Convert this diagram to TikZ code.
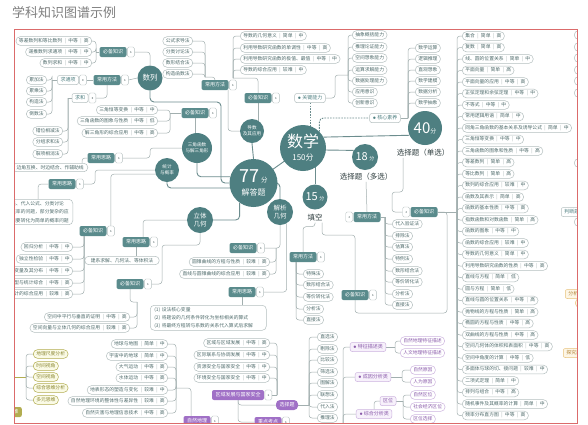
\documentclass[tikz,border=0pt]{standalone}
\usepackage{fontspec}
\setmainfont{Noto Sans CJK SC}
\usetikzlibrary{backgrounds}
\definecolor{teal0}{HTML}{4E7F81}
\definecolor{tealtag}{HTML}{5A8B8C}
\definecolor{pillb}{HTML}{B4BFBF}
\definecolor{pillt}{HTML}{4F6B6B}
\definecolor{sepc}{HTML}{9AA8A8}
\definecolor{lnk}{HTML}{A2AFAF}
\definecolor{lnkd}{HTML}{6C8D8E}
\definecolor{framec}{HTML}{DB6B6B}
\definecolor{titlec}{HTML}{7F7F7F}
\definecolor{labc}{HTML}{2E3D3E}
\definecolor{purp}{HTML}{A070C6}
\definecolor{purpl}{HTML}{F7F1FB}
\definecolor{purpb}{HTML}{CDB4DF}
\definecolor{purpt}{HTML}{8A5BAA}
\definecolor{olv}{HTML}{B2AD50}
\definecolor{olvl}{HTML}{FAFAE6}
\definecolor{olvt}{HTML}{8C8834}
\definecolor{ylw}{HTML}{E8C27A}
\definecolor{ylwl}{HTML}{FDF6E6}
\definecolor{ylwt}{HTML}{B3863A}
\definecolor{btnd}{HTML}{5E6E6E}
\newcommand\mypf{\fontsize{4.8}{5.6}\selectfont}
\newcommand\mytf{\fontsize{5}{6}\selectfont}
\newcommand\sepb{\hspace{2.4pt}{\color{sepc}|}\hspace{2.4pt}}
\tikzset{
 pill/.style={draw=pillb, fill=white, rounded corners=4.2pt, inner xsep=3pt, inner ysep=0pt, minimum height=8.6pt, text=pillt, font=\mypf, line width=0.5pt},
 pillo/.style={pill, draw=olv, fill=olvl, text=olvt},
 pillp/.style={pill, draw=purpb, text=purpt},
 pilly/.style={pill, draw=ylw, fill=ylwl, text=ylwt},
 tagd/.style={fill=tealtag, text=white, rounded corners=2pt, inner xsep=3.5pt, inner ysep=0pt, minimum height=10pt, font=\mytf},
 tagp/.style={tagd, fill=purp},
 btn/.style={draw=pillb, fill=white, minimum width=7pt, minimum height=10pt, inner sep=0pt, rounded corners=1.5pt, line width=0.4pt, path picture={\fill[btnd] (path picture bounding box.center) circle (0.7pt);}},
 tagw/.style={draw=pillb, fill=white, text=teal0, rounded corners=2pt, inner xsep=3pt, inner ysep=0pt, minimum height=9pt, font=\mytf, line width=0.5pt},
 tagpl/.style={tagw, draw=purpb, fill=purpl, text=purpt},
 tagy/.style={tagw, draw=ylw, fill=ylwl, text=ylwt},
 circ/.style={circle, fill=teal0, text=white, inner sep=0pt, align=center},
 lab/.style={text=labc, inner sep=1pt, font=\fontsize{7.5}{8}\selectfont},
 conn/.style={draw=lnk, line width=0.5pt, rounded corners=3pt},
 connd/.style={draw=lnkd, line width=0.9pt, rounded corners=4pt},
 leafbox/.style={draw=pillb, fill=white, rounded corners=4pt, text=pillt, align=left, inner xsep=4pt, inner ysep=2pt, line width=0.5pt},
}
\newcommand\tagR[5][tagd]{\node[#1] (#2) at (#3,#4) {#5};\node[btn, anchor=west] (#2b) at ([xshift=0.4pt]#2.east) {};}
\newcommand\tagL[5][tagd]{\node[#1] (#2) at (#3,#4) {#5};\node[btn, anchor=east] (#2b) at ([xshift=-0.4pt]#2.west) {};}
\newcommand\leafR[5][pill]{\foreach \qy/\qt [count=\qi] in {#5}{\node[#1,anchor=west] (#2\qi) at (#3,\qy) {\qt};\draw[conn] (#4) |- (#2\qi.west);}}
\newcommand\leafL[5][pill]{\foreach \qy/\qt [count=\qi] in {#5}{\node[#1,anchor=east] (#2\qi) at (#3,\qy) {\qt};\draw[conn] (#4) |- (#2\qi.east);}}
\begin{document}
\begin{tikzpicture}[x=1pt,y=-1pt]
\useasboundingbox (0,0) rectangle (588,424);
\begin{pgfonlayer}{background}
\fill[white] (0,0) rectangle (588,424);
\end{pgfonlayer}
\begin{scope}
\clip (14,29) rectangle (577,423);
% ---------- circles ----------
\node[circ, minimum size=46pt] (sx) at (303,148) {{\fontsize{16}{16}\selectfont 数学}\\[1pt]{\fontsize{8}{8}\selectfont 150分}};
\node[circ, minimum size=48pt] (s77) at (253.5,183) {{\fontsize{18}{18}\selectfont 77}\,{\fontsize{6.5}{6.5}\selectfont 分}\\[1pt]{\fontsize{8}{8}\selectfont 解答题}};
\node[circ, minimum size=34pt] (s40) at (425,128) {{\fontsize{15}{15}\selectfont 40}{\fontsize{6}{6}\selectfont 分}};
\node[circ, minimum size=26pt] (s18) at (365,157) {{\fontsize{11}{11}\selectfont 18}\,{\fontsize{5}{5}\selectfont 分}};
\node[circ, minimum size=25pt] (s15) at (315,197) {{\fontsize{11}{11}\selectfont 15}\,{\fontsize{5}{5}\selectfont 分}};
\node[circ, minimum size=26pt, font=\fontsize{6.5}{7.5}\selectfont] (jx) at (280,212) {解析\\几何};
\node[circ, minimum size=26pt, font=\fontsize{6.5}{7.5}\selectfont] (lt) at (200,220) {立体\\几何};
\node[circ, minimum size=24pt, font=\fontsize{4.6}{5.6}\selectfont] (tj) at (167,170) {统计\\与概率};
\node[circ, minimum size=30pt, font=\fontsize{4.6}{5.6}\selectfont] (sj) at (197,148) {三角函数\\与解三角形};
\node[circ, minimum size=24pt, font=\fontsize{4.6}{5.6}\selectfont] (dao) at (252,131) {导数\\及其应用};
\node[circ, minimum size=25pt, font=\fontsize{7.5}{8}\selectfont] (sl) at (150,78) {数列};
\node[lab] (s40l) at (423,153) {选择题（单选）};
\node[lab] (s18l) at (366,177) {选择题（多选）};
\node[lab] (tkl) at (315,218) {填空};
% ---------- tags ----------
\tagR{slbk}{113}{52}{必备知识}
\tagR{slcy}{107}{80}{常用方法}
\tagR{sjbk}{195}{113}{必备知识}
\tagR{sjsl}{101}{158}{常用思路}
\tagR{tjsl}{62}{184}{常用思路}
\tagR{tjbk}{93}{231}{必备知识}
\tagR{ltsl}{136}{242}{常用思路}
\tagR{ltbk}{130}{284}{必备知识}
\tagR{jxbk}{243}{248}{必备知识}
\tagR{jxsl}{242}{292}{常用思路}
\tagR{tkcy}{303}{257}{常用方法}
\tagR{tkbk}{355}{295}{必备知识}
\tagR{dcy}{215}{85}{常用方法}
\tagR{dbk}{258}{98}{必备知识}
\tagL{xdbk}{424}{212}{必备知识}
\tagL{dxcy}{367}{217}{常用方法}
\node[tagw] (gjnl) at (310,98) {$\bullet$\,关键能力};
\node[tagw] (hxsy) at (385,118) {$\bullet$\,核心素养};
\tagR[tagw]{qiu}{68}{80}{求通项}
\tagR[tagw]{qh}{80}{98}{求和}
\tagR[tagp]{qyfz}{238}{395}{区域发展与国家安全}
\node[tagp, rounded corners=4pt] (xzt) at (287,405) {选择题};
\tagR[tagp]{zdkd}{268}{422}{重点考点}
\tagR[tagp]{zrdl}{197}{421}{自然地理}
\node[tagpl] (tzms) at (368,347) {$\bullet$\,特征描述类};
\node[tagpl] (cyfx) at (373,377) {$\bullet$\,成因分析类};
\node[tagpl] (qw) at (388,401) {区位};
\node[tagpl] (zhfx) at (374,414) {$\bullet$\,综合分析类};
\node[tagd, fill=olv, anchor=east] (olt) at (22,412) {地理思维};
% ---------- leaf boxes ----------
\node[leafbox, font=\mypf, anchor=north east] (sjleaf) at (88,163) {边角互换、时边结合、作辅助线};
\node[leafbox, font=\fontsize{4.8}{8.5}\selectfont, anchor=north east] (tjleaf) at (73,199) {列举法、代入公式、分类讨论\\处理概率的问题，部分复杂的应\\用题需要转化为简单的概率问题};
\node[leafbox, font=\mypf, inner xsep=6pt, anchor=north] (ltleaf) at (122,256) {建系求解、几何法、等体积法};
\node[leafbox, font=\fontsize{4.8}{8}\selectfont, text width=108pt, anchor=north west] (jxleaf) at (150,305) {(1) 设法核心变量\\(2) 将题设的几何条件转化为坐标相关的算式\\(3) 将最终方程转与系数的关系代入算式后求解};
% ---------- spine coordinates ----------
\coordinate (slc) at (221,102);
\coordinate (slbksp) at (96,52);
\coordinate (qiusp) at (52,80);
\coordinate (qhsp) at (68,98);
\coordinate (dcyc) at (205,77);
\coordinate (dbkc) at (233,78);
\coordinate (gja) at (335,98);
\coordinate (gjc) at (348,75);
\coordinate (hxc) at (408,118);
\coordinate (sjbksp) at (170,113);
\coordinate (sjc) at (150,148);
\coordinate (tjc) at (95,170);
\coordinate (tjbksp) at (84,236);
\coordinate (ltc) at (162,245);
\coordinate (ltsp) at (137,302);
\coordinate (jxsp) at (276,248);
\coordinate (tkcysp) at (296,262);
\coordinate (tkc) at (355,235);
\coordinate (bigc) at (447,313);
\coordinate (dxsp) at (385,217);
\coordinate (xdc) at (392,192);
\coordinate (xdsp) at (457,212);
\coordinate (qysp) at (277,395);
\coordinate (xzsp) at (309,405);
\coordinate (gsp) at (176,388);
\coordinate (tzsp) at (395,347);
\coordinate (cysp) at (402,377);
\coordinate (qwsp) at (403,401);
\coordinate (ppb) at (343,430);
\coordinate (olp) at (8,377);
\coordinate (olc) at (26,377);
% ---------- leaves ----------
\leafL{slk}{92}{slbksp}{41/等差数列和等比数列\sepb 中等\sepb 高, 52/递推数列求通项\sepb 中等\sepb 中, 63/数列求和\sepb 中等\sepb 中}
\leafL{qiul}{47}{qiusp}{80/累加法, 91/累乘法, 102/构造法, 114/倒数法}
\leafL{qhl}{63}{qhsp}{131/错位相减法, 142/分组求和法, 154/裂项相消法}
\leafL{dcl}{193}{dcyc}{41/公式求导法, 52/分类讨论法, 63/数形结合法, 74/构造函数法}
\leafR{dbl}{240}{dbkc}{36/导数的几何意义\sepb 简单\sepb 中, 48/利用导数研究函数的单调性\sepb 中等\sepb 高, 59/利用导数研究函数的极值、最值\sepb 中等\sepb 中, 70/导数的综合应用\sepb 较难\sepb 中}
\leafR{gjl}{352}{gjc}{35/抽象概括能力, 47/推理论证能力, 58/空间想象能力, 70/运算求解能力, 81/数据处理能力, 92/应用意识, 103/创新意识}
\leafR{hxl}{415}{hxc}{48/数学运算, 59/逻辑推理, 70/直观想象, 81/数学建模, 92/数据分析, 103/数学抽象}
\leafL{sjl}{158}{sjbksp}{110/三角恒等变换\sepb 中等\sepb 中, 121/三角函数的图象与性质\sepb 中等\sepb 低, 133/解三角形的综合应用\sepb 中等\sepb 高}
\leafL{tjl}{73}{tjbksp}{247/回归分析\sepb 中等\sepb 中, 259/独立性检验\sepb 中等\sepb 中, 271/随机变量及其分布\sepb 中等\sepb 中, 283/古典概型与统计综合\sepb 中等\sepb 高, 294/概率与统计的综合应用\sepb 较难\sepb 高}
\leafL{ltl}{130}{ltsp}{317/空间中平行与垂直的证明\sepb 中等\sepb 高, 328/空间向量与立体几何的综合应用\sepb 较难\sepb 高}
\leafL{jxl}{270}{jxsp}{262/圆锥曲线的方程与性质\sepb 较难\sepb 高, 274/直线与圆锥曲线的综合应用\sepb 较难\sepb 高}
\leafR{tkl}{303}{tkcysp}{274/特殊法, 285/数形结合法, 297/等价转化法, 309/分析法, 320/直接法}
\leafR{dxl}{392}{dxsp}{224/代入验证法, 236/排除法, 247/估算法, 259/特例法, 271/数形结合法, 282/等价转化法, 294/分析法, 305/直接法}
\leafR{xdl}{462}{xdsp}{36/集合\sepb 简单\sepb 高, 47.5/复数\sepb 简单\sepb 高, 59/线、圆的位置关系\sepb 简单\sepb 中, 70.5/平面向量\sepb 简单\sepb 高, 82/平面向量的应用\sepb 中等\sepb 高, 93.5/正弦定理和余弦定理\sepb 中等\sepb 中, 105/不等式\sepb 中等\sepb 中, 116.5/常用逻辑用语\sepb 简单\sepb 中, 128/同角三角函数的基本关系及诱导公式\sepb 简单\sepb 中, 139.5/三角恒等变换\sepb 中等\sepb 中, 151/三角函数的图象和性质\sepb 中等\sepb 高, 162.5/等差数列\sepb 简单\sepb 高, 174/等比数列\sepb 简单\sepb 高, 185.5/数列的综合应用\sepb 较难\sepb 中, 197/函数及其表示\sepb 简单\sepb 高, 208.5/函数的基本性质\sepb 中等\sepb 高, 220/指数函数和对数函数\sepb 简单\sepb 高, 231.5/函数的图象\sepb 中等\sepb 中, 243/函数的综合应用\sepb 较难\sepb 中, 254.5/导数的几何意义\sepb 简单\sepb 中, 266/利用导数研究函数的性质\sepb 中等\sepb 高, 277.5/直线与方程\sepb 简单\sepb 低, 289/圆与方程\sepb 简单\sepb 低, 300.5/直线与圆的位置关系\sepb 中等\sepb 高, 312/抛物线的方程与性质\sepb 简单\sepb 高, 323.5/椭圆的方程与性质\sepb 中等\sepb 高, 335/双曲线的方程与性质\sepb 中等\sepb 高, 346.5/空间几何体的体积和表面积\sepb 中等\sepb 高, 358/空间中角度的计算\sepb 中等\sepb 低, 369.5/多面体与球的切、接问题\sepb 较难\sepb 中, 381/二项式定理\sepb 简单\sepb 中, 392.5/排列与组合\sepb 中等\sepb 高, 404/随机事件及其概率的计算\sepb 简单\sepb 中, 415.5/频率分布直方图\sepb 中等\sepb 高}
\leafL{qyl}{270}{qysp}{343/区域与区域发展\sepb 中等\sepb 高, 355/区际联系与协调发展\sepb 中等\sepb 中, 367/资源安全与国家安全\sepb 中等\sepb 中, 378/环境安全与国家安全\sepb 中等\sepb 中}
\leafL{gl}{168}{gsp}{344/地球与地图\sepb 简单\sepb 中, 356/宇宙中的地球\sepb 简单\sepb 中, 367/大气运动\sepb 中等\sepb 高, 378/水体运动\sepb 中等\sepb 高, 390/地表形态的塑造与变化\sepb 较难\sepb 中, 401/自然地理环境的整体性与差异性\sepb 较难\sepb 高, 413/自然灾害与地理信息技术\sepb 中等\sepb 高}
\leafR{xzl}{317}{xzsp}{337/直选法, 349/剔除法, 360/比较法, 372/筛选法, 383/图解法, 395/联想法, 407/代入法, 418/推理法}
\leafR[pillp]{tzl}{400}{tzsp}{341/自然地理特征描述, 353/人文地理特征描述}
\leafR[pillp]{cyl}{410}{cysp}{370/自然原因, 382/人为原因}
\leafR[pillp]{qwl}{410}{qwsp}{395/自然区位, 407/社会经济区位, 419/区位选择}
\leafR[pillo]{oll}{33}{olc}{354/地理尺度分析, 366/时间视角, 377/空间视角, 388/综合思维分析, 400/多元思维}
% ---------- right edge ----------
\foreach \qy [count=\qi] in {35,47,58,70,81,93,163,222}{\node[pill, anchor=west] (rs\qi) at (574,\qy) {集合\sepb 简单\sepb 高};}
\node[tagw, anchor=west] (pdt) at (561,212) {判断题};
\node[tagy, anchor=west] (fxt) at (565,294) {分析题};
\node[pilly, anchor=west] (ys1) at (575,303) {分析};
\node[tagy, anchor=west] (tjt) at (563,353) {探究题};
\end{scope}
% ---------- connectors ----------
\begin{pgfonlayer}{background}
\begin{scope}
\clip (14,29) rectangle (577,423);
\draw[connd] (sx.center) -- (s77.center);
\draw[connd] (sx.28) -- (s40.205);
\draw[connd] (sx.355) -- (s18.150);
\draw[connd] (s15.north) -- (s15.north |- sx.center);
\draw[connd, dash pattern=on 1.6pt off 1.2pt] (gjnl.south) -- (gjnl.south |- sx.center);
\draw[connd, dash pattern=on 1.6pt off 1.2pt] (sx.45) |- (hxsy.west);
\draw[connd] (dao.south) -- (s77.north);
\draw[connd] (sl.south) |- (slc) |- (s77.west);
\draw[connd] (sj.south) |- (s77.165);
\draw[connd] (tj.south) |- (s77.192);
\draw[connd] (lt.east) -| (s77.235);
\draw[connd] (s77.east) -| (jx.north);
\draw[conn] (slbkb.east) -| (sl.north);
\draw[conn] (slcyb.east) -- (sl.west);
\draw[conn] (slbk.west) -- (slbksp);
\draw[conn] (slcy.west) -- (qiub.east);
\draw[conn] (slcy.south) |- (qhb.east);
\draw[conn] (qiu.west) -- (qiusp);
\draw[conn] (qh.west) -- (qhsp);
\draw[conn] (sjbk.south) -- (sjbk.south |- sj.center);
\draw[conn] (sjbk.west) -- (sjbksp);
\draw[conn] (sj.west) -- (sjc) |- (sjslb.east);
\draw[conn] (sjsl.west) -| ([xshift=-6pt]sjleaf.north east);
\draw[conn] (tj.west) -- (tjc) |- (tjslb.east);
\draw[conn] (tjsl.west) -| ([xshift=3pt]tjleaf.north);
\draw[conn] (tj.200) -| (tjbkb.north);
\draw[conn] (lt.west) -| ([xshift=7pt]ltsl.north);
\draw[conn] (ltsl.south) -- (ltsl.south |- ltleaf.north);
\draw[conn] (lt.south) |- (ltc) |- (ltbkb.east);
\draw[conn] (ltbk.south) |- (ltsp);
\draw[conn] (jx.south) |- (jxbkb.east);
\draw[conn] (jx.300) |- (jxslb.east);
\draw[conn] (jxsl.south) -- (jxsl.south |- jxleaf.north);
\draw[conn] (tkl.south) -- ++(0,4) -| (tkcy.north);
\draw[conn] ([xshift=7pt]tkl.south) |- (tkc) -- (tkbk.north);
\draw[conn] (tkbk.south) |- (bigc) |- (xdbk.east);
\draw[conn] (xdbk.east) -- (xdsp);
\draw[conn] (s18l.south) -- (dxcy.north);
\draw[conn] (dxcy.east) -- (dxsp);
\draw[conn] ([xshift=-20pt]s40l.south) |- (xdc) |- (xdbkb.west);
\draw[conn] (dbk.south) -- (dbk.south |- dao.center);
\draw[conn] (dbk.north) |- (dbkc);
\draw[conn] (dcy.north) |- (dcyc);
\draw[conn] ([xshift=13pt]dcy.south) |- (dao.west);
\draw[conn] (gjnl.east) -- (gja) |- (gjc);
\draw[conn] (hxsy.east) -- (hxc);
\draw[conn] (qyfzb.east) -- (qysp);
\draw[conn] (qyfz.south) |- (xzt.west);
\draw[conn] (qyfz.south) |- (zdkd.west);
\draw[conn] (xzt.east) -- (xzsp);
\draw[conn] ([xshift=-6pt]zrdl.north) |- (gsp);
\draw[conn] (tzms.east) -- (tzsp);
\draw[conn] (cyfx.east) -- (cysp);
\draw[conn] (qw.east) -- (qwsp);
\draw[conn] (zhfx.north) |- (qw.west);
\draw[conn] (ppb) |- (tzms.west);
\draw[conn] (ppb) |- (cyfx.west);
\draw[conn] (ppb) |- (zhfx.west);
\draw[conn, draw=olv] (olp) -- (olc);
\end{scope}
\end{pgfonlayer}
\draw[draw=framec, line width=1pt] (14,29) rectangle (577,423);
\node[anchor=west, inner sep=0pt, text=titlec, font=\fontsize{13}{13}\selectfont] (title) at (12,13) {学科知识图谱示例};
\end{tikzpicture}
\end{document}
